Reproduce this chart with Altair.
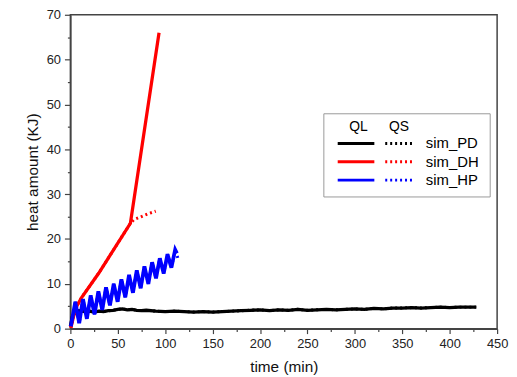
import altair as alt
import pandas as pd

# ---- data ----
pd_t = [0, 2, 5, 9, 15, 20, 25, 30, 35, 40, 45, 50, 55, 60, 65, 70, 75, 80, 90, 100,
        110, 120, 130, 140, 150, 160, 170, 180, 190, 200, 210, 220, 230, 240, 250, 260,
        270, 280, 290, 300, 310, 320, 330, 340, 350, 360, 370, 380, 390, 400, 410, 420, 428]
pd_ql = [0.5, 2.6, 3.6, 4.0, 3.8, 3.9, 3.7, 3.9, 3.8, 4.0, 4.1, 4.3, 4.4, 4.2, 4.3, 4.1, 4.0, 4.1, 3.9, 3.8,
         3.9, 3.8, 3.7, 3.8, 3.7, 3.8, 3.9, 4.0, 4.1, 4.2, 4.0, 4.2, 4.1, 4.3, 4.1, 4.2,
         4.3, 4.2, 4.3, 4.4, 4.3, 4.5, 4.4, 4.6, 4.6, 4.7, 4.6, 4.7, 4.8, 4.7, 4.8, 4.8, 4.8]

dh_t = [0.5, 4, 7, 12, 30, 63.3, 93.5]
dh_ql = [0.2, 3.3, 5.1, 7.0, 12.4, 23.5, 66.0]
dh_qs_t = [0.5, 4, 7, 12, 30, 63.3, 67, 75, 83, 90]
dh_qs = [0.2, 3.3, 5.1, 7.0, 12.4, 23.5, 24.3, 25.0, 25.7, 26.2]

hp_t = [0.5, 5.2, 9.3, 13.3, 17.4, 21.4, 25.5, 29.5, 33.6, 37.6, 41.7, 45.7, 49.8, 53.8,
        57.9, 61.9, 66.0, 70.0, 74.1, 78.1, 82.2, 86.2, 90.3, 94.3, 98.4, 102.4,
        106.5, 110.5, 112.3]
hp_ql = [0.5, 6.0, 1.2, 6.6, 2.2, 7.4, 3.2, 8.3, 4.2, 9.2, 5.2, 10.0, 6.0, 11.0,
         7.0, 12.0, 8.0, 13.0, 9.0, 13.9, 10.0, 14.8, 11.2, 15.7, 12.3, 16.6,
         13.6, 17.6, 16.8]
hp_qs_t = hp_t[:-1] + [114.0]
hp_qs = hp_ql[:-1] + [15.3]

series = ["sim_PD", "sim_DH", "sim_HP"]
colors = ["#000000", "#ff0000", "#0000ff"]
widths = [3.3, 3.3, 3.8]

ql_data = [(pd_t, pd_ql), (dh_t, dh_ql), (hp_t, hp_ql)]
qs_data = [(pd_t, pd_ql), (dh_qs_t, dh_qs), (hp_qs_t, hp_qs)]

W, H = 431, 317

xaxis = alt.Axis(
    title="time (min)", values=list(range(0, 451, 25)),
    labelExpr="datum.value % 50 === 0 ? datum.label : ''",
    tickSize={"condition": {"test": "datum.value % 50 === 0", "value": 5}, "value": 3},
    labelOverlap=False, labelFlush=False, grid=False,
    labelFontSize=13, titleFontSize=15.5, labelPadding=4, titlePadding=9,
)
yaxis = alt.Axis(
    title="heat amount (KJ)", values=list(range(0, 71, 5)),
    labelExpr="datum.value % 10 === 0 ? datum.label : ''",
    tickSize={"condition": {"test": "datum.value % 10 === 0", "value": 6}, "value": 3},
    labelOverlap=False, labelFlush=False, grid=False,
    labelFontSize=13, titleFontSize=15.5, labelPadding=4, titlePadding=6,
)
xs = alt.Scale(domain=[0, 450], nice=False)
ys = alt.Scale(domain=[0, 70], nice=False)

layers = []
for (t, v), c in zip(qs_data, colors):
    df = pd.DataFrame({"t": t, "v": v})
    layers.append(
        alt.Chart(df).mark_line(strokeWidth=3, strokeDash=[2, 3], color=c).encode(
            x=alt.X("t:Q", scale=xs, axis=xaxis),
            y=alt.Y("v:Q", scale=ys, axis=yaxis),
        )
    )
for (t, v), c, w in zip(ql_data, colors, widths):
    df = pd.DataFrame({"t": t, "v": v})
    layers.append(
        alt.Chart(df).mark_line(strokeWidth=w, color=c).encode(
            x=alt.X("t:Q", scale=xs, axis=xaxis),
            y=alt.Y("v:Q", scale=ys, axis=yaxis),
        )
    )

# ---- custom legend ----
dummy = alt.Data(values=[{"a": 1}])
leg = [
    alt.Chart(dummy).mark_rect(fill="white", stroke="#999999", strokeWidth=1).encode(
        x=alt.value(256), x2=alt.value(424), y=alt.value(100), y2=alt.value(184)),
    alt.Chart(dummy).mark_text(text="QL", fontSize=14, color="black", align="center", baseline="middle").encode(
        x=alt.value(291), y=alt.value(113)),
    alt.Chart(dummy).mark_text(text="QS", fontSize=14, color="black", align="center", baseline="middle").encode(
        x=alt.value(332), y=alt.value(113)),
]
row_y = [130, 148.5, 167]
for name, c, ry in zip(series, colors, row_y):
    leg.append(alt.Chart(dummy).mark_rule(color=c, strokeWidth=3).encode(
        x=alt.value(270), x2=alt.value(307), y=alt.value(ry)))
    leg.append(alt.Chart(dummy).mark_rule(color=c, strokeWidth=3, strokeDash=[2, 3]).encode(
        x=alt.value(318), x2=alt.value(346), y=alt.value(ry)))
    leg.append(alt.Chart(dummy).mark_text(text=name, fontSize=15, color="black", align="left", baseline="middle").encode(
        x=alt.value(359), y=alt.value(ry)))

chart = alt.layer(*layers, *leg).properties(
    width=W, height=H,
    autosize=alt.AutoSizeParams(type="none"),
    padding={"left": 63, "top": 5, "right": 12, "bottom": 48},
).configure_view(stroke="#444444", strokeWidth=1.5).configure_axis(
    domainColor="#444444", domainWidth=1.5, tickColor="#444444", tickWidth=1.2,
    labelColor="#222222", titleColor="#111111",
    labelFont="Liberation Sans", titleFont="Liberation Sans", titleFontWeight="normal",
).configure_text(font="Liberation Sans")

chart.save("out.html", embed_options={"renderer": "svg", "actions": False})
